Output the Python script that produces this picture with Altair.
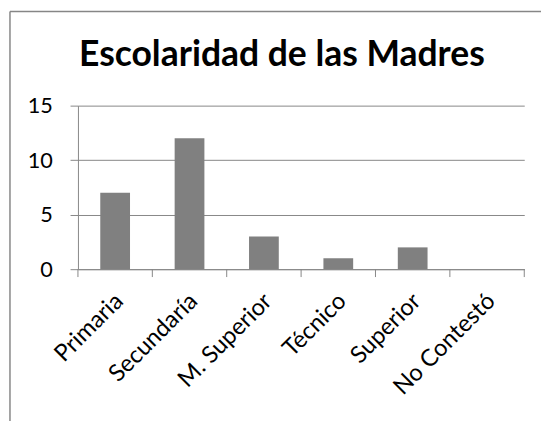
import altair as alt
import pandas as pd

categories = ["Primaria", "Secundaría", "M. Superior", "Técnico", "Superior", "No Contestó"]
values = [7, 12, 3, 1, 2, 0]
title_text = "Escolaridad de las Madres"
y_ticks = [0, 5, 10, 15]

df = pd.DataFrame({"cat": categories, "val": values})
tick_df = pd.DataFrame({"pos": list(range(len(categories) + 1))})
one = pd.DataFrame({"t": [title_text]})

W, H = 453, 166
GRAY = "#868686"
FONT = "Lato"

bars = alt.Chart(df).mark_bar(color="#808080").encode(
    x=alt.X("cat:N", sort=categories, title=None,
            scale=alt.Scale(paddingInner=0.6, paddingOuter=0.3),
            axis=alt.Axis(labelAngle=-45, labelFontSize=24, labelFont=FONT, labelColor="#000000",
                          ticks=False, domainColor=GRAY, labelPadding=20, labelOffset=-4,
                          grid=False)),
    y=alt.Y("val:Q", title=None,
            scale=alt.Scale(domain=[0, 15], nice=False),
            axis=alt.Axis(values=y_ticks, labelFontSize=22, labelFont=FONT, labelColor="#000000",
                          tickSize=8, tickColor=GRAY, domainColor=GRAY, gridColor=GRAY,
                          labelPadding=18, grid=True)),
)

ticks = alt.Chart(tick_df).mark_rule(color=GRAY).encode(
    x=alt.X("pos:Q", scale=alt.Scale(domain=[0, len(categories)], nice=False), axis=None),
    y=alt.value(H),
    y2=alt.value(H + 8),
)

title = alt.Chart(one).mark_text(fontSize=36, fontWeight="bold", font=FONT, align="center",
                                 baseline="alphabetic", color="#000000").encode(
    text="t:N", x=alt.value(207), y=alt.value(-40)
)

border_left = alt.Chart(one).mark_rule(color=GRAY, strokeWidth=1.5).encode(
    x=alt.value(-69), y=alt.value(-95.5), y2=alt.value(H + 160)
)
border_top = alt.Chart(one).mark_rule(color=GRAY, strokeWidth=1.5).encode(
    x=alt.value(-69), x2=alt.value(W + 30), y=alt.value(-95.5)
)

chart = alt.layer(bars, ticks, title, border_left, border_top).resolve_scale(
    x="independent"
).properties(
    width=W, height=H,
    autosize=alt.AutoSizeParams(type="none"),
    padding={"left": 71, "top": 96, "right": 17, "bottom": 151},
).configure_view(stroke=None).configure_axis(gridWidth=1)

chart.save("out.html", embed_options={"renderer": "svg", "actions": False})
